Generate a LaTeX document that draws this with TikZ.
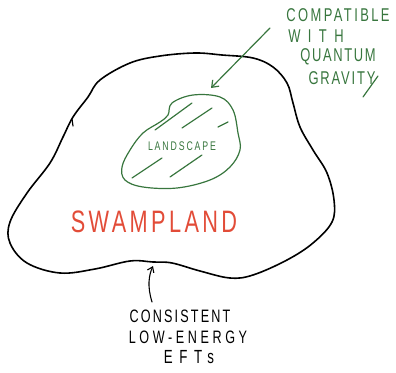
\documentclass[tikz,border=0pt]{standalone}
\usepackage{fontspec}
\newfontfamily\hand[FakeStretch=0.70]{Liberation Sans}
\usetikzlibrary{arrows.meta}
\definecolor{pgreen}{RGB}{56,118,62}
\definecolor{pred}{RGB}{226,76,56}
\newcommand\handtxt[3]{{\hand\fontsize{#1}{#1}\selectfont\addfontfeature{LetterSpace=#2}#3}}
\tikzset{
  outline/.style={line width=1.6pt, line join=round, line cap=round},
  greenline/.style={pgreen, line width=1.2pt, line cap=round, line join=round},
  lbl/.style={inner sep=0pt, anchor=center},
  barb/.style={-{Straight Barb[length=6pt,width=9pt]}},
}
\begin{document}
\begin{tikzpicture}[x=1pt,y=-1pt]
\useasboundingbox (0,0) rectangle (396,372);
% swampland outline
\draw[outline] plot[smooth cycle, tension=0.6] coordinates {
 (100,80) (130,63) (160,56) (195,53) (222,55) (253,58) (273,67) (287,83)
 (293,103) (300,127) (313,150) (327,173) (334,200) (332,222) (313,243)
 (287,260) (253,275) (230,278) (200,271) (172,263) (153,262) (130,261)
 (95,269) (60,273) (27,263) (10,243) (10,222) (27,193) (50,163) (63,137)
 (73,117) (88,97)};
\draw[line width=1.2pt, line cap=round] (72,119) -- (73,126);
% landscape blob
\draw[greenline] plot[smooth cycle, tension=0.6] coordinates {
 (172,103) (193,95) (220,97) (233,110) (238,133) (240,150) (230,167)
 (210,180) (177,188) (143,187) (125,180) (122,167) (130,150) (143,133)
 (160,122) (168,115)};
% hatching
\draw[greenline] (155,130) -- (192,103);
\draw[greenline] (182,128) -- (212,108);
\draw[greenline] (218,127) -- (228,122);
\draw[greenline] (132,178) -- (162,158);
\draw[greenline] (170,177) -- (202,155);
\node[lbl, pgreen] (land) at (182,146) {\handtxt{12.5}{15}{LANDSCAPE}};
% swampland label
\node[lbl, pred] (swamp) at (154,222) {\handtxt{31}{11}{SWAMPLAND}};
% compatible label
\node[lbl, pgreen] (qg1) at (338,15) {\handtxt{18.5}{13}{COMPATIBLE}};
\node[lbl, pgreen] (qg2) at (316,36) {\handtxt{18.5}{40}{WITH}};
\node[lbl, pgreen] (qg3) at (338,57) {\handtxt{18.5}{9}{QUANTUM}};
\node[lbl, pgreen] (qg4) at (342,78) {\handtxt{18.5}{10}{GRAVITY}};
\draw[greenline] (378,76) -- (363,97);
\coordinate (gstart) at (270,28);
\coordinate (gend) at (211,88);
\draw[greenline, barb] (gstart) -- (gend);
% consistent label
\node[lbl] (c1) at (180,316) {\handtxt{18}{12}{CONSISTENT}};
\node[lbl] (c2) at (188,337) {\handtxt{18}{20}{LOW-ENERGY}};
\node[lbl] (c3) at (189,357) {\handtxt{19}{35}{EFTs}};
\coordinate (bstart) at (152,302);
\coordinate (bend) at (153,266);
\draw[line width=1.1pt, line cap=round, -{Straight Barb[length=5pt,width=7pt]}] (bstart) .. controls (147,286) and (149,275) .. (bend);
\end{tikzpicture}
\end{document}
